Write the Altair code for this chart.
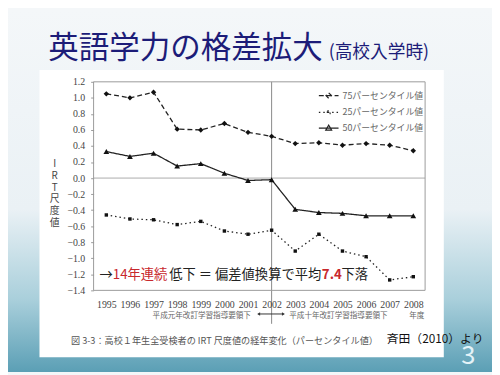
import altair as alt
import pandas as pd

years = list(range(1995, 2009))
p75 = [1.05, 1.00, 1.07, 0.61, 0.60, 0.68, 0.57, 0.52, 0.43, 0.44, 0.41, 0.43, 0.41, 0.34]
p25 = [-0.46, -0.51, -0.52, -0.58, -0.54, -0.66, -0.70, -0.65, -0.91, -0.70, -0.91, -0.98, -1.27, -1.23]
p50 = [0.33, 0.27, 0.31, 0.15, 0.18, 0.06, -0.03, -0.02, -0.39, -0.43, -0.44, -0.47, -0.47, -0.47]
series_names = ["75パーセンタイル値", "25パーセンタイル値", "50パーセンタイル値"]
y_ticks = [round(-1.4 + 0.2 * i, 1) for i in range(14)]

rows = []
for name, vals in zip(series_names, [p75, p25, p50]):
    for yr, v in zip(years, vals):
        rows.append({"year": yr, "value": v, "series": name})
df = pd.DataFrame(rows)

W, H = 337, 212
PL, PT = 87, 72
PR, PB = 500 - 8 - PL - W, 375 - 8 - PT - H

xscale = alt.Scale(domain=[1994.46, 2008.5], nice=False, zero=False)
yscale = alt.Scale(domain=[-1.4, 1.2], nice=False, zero=False)

x_axis = alt.Axis(values=years, format="d", title="", ticks=False, domain=False,
                  grid=False, labelFont="Liberation Serif", labelFontSize=10,
                  labelColor="#444", labelPadding=9, zindex=2)
y_axis = alt.Axis(values=y_ticks, format=".1f", grid=False, domain=False,
                  tickSize=3, tickColor="#999", labelFont="Liberation Serif",
                  labelFontSize=10, labelColor="#444", labelPadding=6,
                  title=["I", "R", "T", "尺", "度", "値"], titleAngle=0,
                  titleX=-40, titleY=78, titleAlign="center",
                  titleBaseline="top", titleFont="Noto Sans CJK JP",
                  titleFontSize=10, titleFontWeight="normal",
                  titleColor="#444", titleLineHeight=12, zindex=2)

grad = alt.LinearGradient(
    gradient="linear",
    stops=[alt.GradientStop(color="#f4f7f9", offset=0),
           alt.GradientStop(color="#eaf1f5", offset=0.55),
           alt.GradientStop(color="#a9cfdb", offset=0.8),
           alt.GradientStop(color="#5b9fb5", offset=1)],
    x1=0, x2=0, y1=0, y2=1)

one = pd.DataFrame({"a": [0]})
bg = alt.Chart(one).mark_rect(fill=grad).encode(
    x=alt.value(-PL), x2=alt.value(W + PR), y=alt.value(-PT), y2=alt.value(H + PB))
panel = alt.Chart(one).mark_rect(fill="white").encode(
    x=alt.value(-55), x2=alt.value(356), y=alt.value(-12), y2=alt.value(280))
frame = alt.Chart(one).mark_rect(fill=None, stroke="#9a9a9a", strokeWidth=1).encode(
    x=alt.value(0), x2=alt.value(W), y=alt.value(0), y2=alt.value(H))

def txt(text, x, y, size, color, font="Noto Sans CJK JP", weight="normal", align="left"):
    return alt.Chart(one).mark_text(
        text=text, fontSize=size, color=color, font=font, fontWeight=weight,
        align=align, baseline="middle").encode(x=alt.value(x), y=alt.value(y))

title = txt("英語学力の格差拡大", -46, -33, 31, "#1c1c78")
subtitle = txt("(高校入学時)", 239, -29, 18, "#1c1c78")

zero_rule = alt.Chart(pd.DataFrame({"v": [0.0]})).mark_rule(color="#aaa", strokeWidth=1).encode(
    y=alt.Y("v:Q", scale=yscale, axis=y_axis))
v_rule = alt.Chart(pd.DataFrame({"yr": [2002]})).mark_rule(color="#888", strokeWidth=1).encode(
    x=alt.X("yr:Q", scale=xscale, axis=x_axis), y=alt.value(0), y2=alt.value(246))

legend = alt.Legend(title=None, orient="none", legendX=228, legendY=3,
                    symbolStrokeColor="#222", symbolFillColor="#222", symbolOpacity=1,
                    symbolStrokeWidth=1.2, symbolSize=400,
                    labelFont="Noto Sans CJK JP", labelFontSize=9,
                    labelColor="#666", rowPadding=-5, labelOffset=3, zindex=2)
dash_scale = alt.Scale(domain=series_names, range=[[5, 3], [1.5, 3], [1, 0]])
legend_paths = [
    "M-1,0H1M0,-0.28L0.28,0L0,0.28L-0.28,0Z",
    "M-1,0H1M-0.14,-0.14H0.14V0.14H-0.14Z",
    "M-1,0H1M0,-0.3L0.3,0.22H-0.3Z",
]
shape_scale = alt.Scale(domain=series_names, range=legend_paths)

base = alt.Chart(df)
lines = base.mark_line(color="#222", strokeWidth=1.3).encode(
    x=alt.X("year:Q", scale=xscale, axis=x_axis),
    y=alt.Y("value:Q", scale=yscale, axis=y_axis),
    strokeDash=alt.StrokeDash("series:N", scale=dash_scale, legend=legend))

# legend-only layer: no rows survive the filter, the legend comes from the scales
legend_layer = base.transform_filter("false").mark_point(
    filled=False, color="#222", strokeWidth=1.2, opacity=1).encode(
    x=alt.X("year:Q", scale=xscale, axis=x_axis),
    y=alt.Y("value:Q", scale=yscale, axis=y_axis),
    shape=alt.Shape("series:N", scale=shape_scale, legend=legend),
    strokeDash=alt.StrokeDash("series:N", scale=dash_scale, legend=legend))

marker_shapes = ["diamond", "square", "triangle-up"]
marker_sizes = [30, 12, 34]
point_layers = []
for name, shp, sz in zip(series_names, marker_shapes, marker_sizes):
    point_layers.append(
        base.transform_filter(alt.datum.series == name).mark_point(
            filled=True, color="#111", opacity=1, shape=shp, size=sz).encode(
            x=alt.X("year:Q", scale=xscale, axis=x_axis),
            y=alt.Y("value:Q", scale=yscale, axis=y_axis)))

# era annotation beneath axis
era_df = pd.DataFrame({"x": [1999.04, 2004.83, 2008.15],
                       "t": ["平成元年改訂学習指導要領下", "平成十年改訂学習指導要領下", "年度"]})
era = alt.Chart(era_df).mark_text(fontSize=7.7, color="#666", font="Noto Sans CJK JP",
                                  baseline="middle").encode(
    x=alt.X("x:Q", scale=xscale, axis=x_axis), y=alt.value(238), text="t:N")
arrow_line = alt.Chart(pd.DataFrame({"a": [2001.45], "b": [2002.5]})).mark_rule(
    color="#333", strokeWidth=1).encode(
    x=alt.X("a:Q", scale=xscale, axis=x_axis), x2="b:Q", y=alt.value(236))
arrow_l = alt.Chart(pd.DataFrame({"x": [2001.45]})).mark_point(
    filled=True, color="#333", size=12, opacity=1, shape="triangle-left").encode(
    x=alt.X("x:Q", scale=xscale, axis=x_axis), y=alt.value(236))
arrow_r = alt.Chart(pd.DataFrame({"x": [2002.5]})).mark_point(
    filled=True, color="#333", size=12, opacity=1, shape="triangle-right").encode(
    x=alt.X("x:Q", scale=xscale, axis=x_axis), y=alt.value(236))

# annotation text inside plot
fs = 13.5
a1 = txt("→", 6, 196, fs, "#222")
a2 = txt("14年連続", 19.5, 196, fs, "#c8282d")
a3 = txt("低下 ＝ 偏差値換算で平均", 77, 196, fs, "#222")
a4 = txt("7.4", 232, 196, fs, "#c8282d", weight="bold")
a5 = txt("下落", 252, 196, fs, "#222")

cap = txt("図 3-3：高校１年生全受検者の IRT 尺度値の経年変化（パーセンタイル値）", -23, 264, 9.3, "#555")
src = txt("斉田（2010）より", 298, 262, 12, "#111")
page = txt("3", 381, 279, 26, "#e4f3f8", align="center")

chart = alt.layer(
    bg, panel, title, subtitle, zero_rule, v_rule, lines, legend_layer, *point_layers,
    era, arrow_line, arrow_l, arrow_r, a1, a2, a3, a4, a5, cap, src, page, frame
).properties(
    width=W, height=H,
    autosize=alt.AutoSizeParams(type="none"),
    padding={"left": PL, "top": PT, "right": PR, "bottom": PB},
    background="#f4f7f9"
).configure_view(stroke=None)

chart.save("out.html", embed_options={"renderer": "svg", "actions": False})
